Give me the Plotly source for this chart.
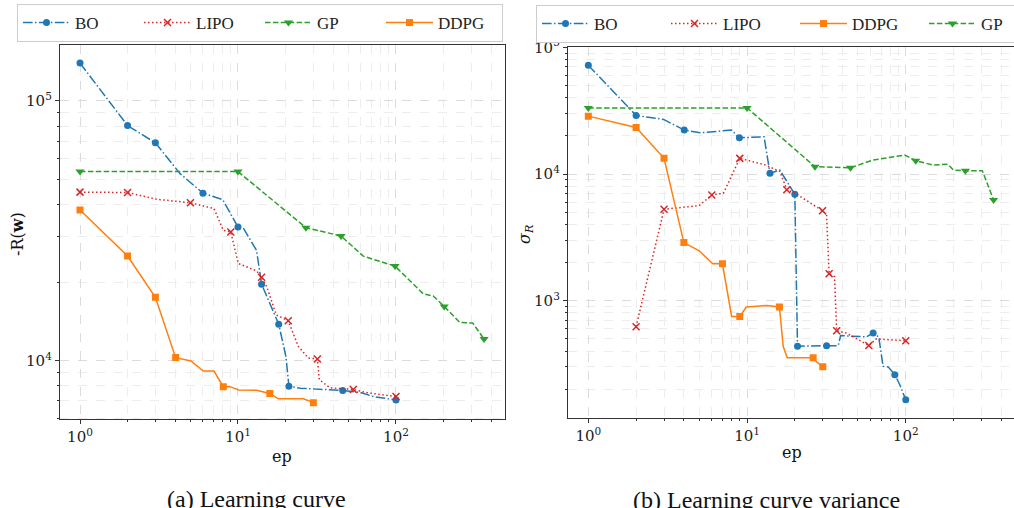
import plotly.graph_objects as go

# ---------------- Panel (a): Learning curve, -R(w) ----------------
a_bo_ep = [1, 2, 3, 4.3, 6, 8, 10, 10.8, 13.1, 14.1, 18.1, 20.1, 21, 24.8, 46, 59, 72, 100]
a_bo_val = [140000, 80400, 69000, 52500, 44150, 41700, 32700, 32400, 26600, 19700, 13820, 10390, 7970, 7830, 7675, 7550, 7270, 7060]
a_bo_mark = [0, 1, 2, 4, 6, 9, 10, 12, 14, 17]

a_lipo_ep = [1, 2, 3.06, 5, 7.05, 8.07, 9, 10.05, 13.1, 14.1, 15.2, 17.5, 20.8, 24.1, 27.8, 31.8, 32.7, 38.1, 53.7, 65, 100]
a_lipo_val = [44570, 44400, 41830, 40550, 38500, 31760, 31290, 23660, 22180, 20930, 19260, 14990, 14230, 11340, 10240, 10150, 8450, 7860, 7745, 7530, 7270]
a_lipo_mark = [0, 1, 3, 6, 9, 12, 15, 18, 20]

a_gp_ep = [1, 10, 26.9, 44.9, 62.1, 98.6, 149, 172, 202, 254, 306, 361]
a_gp_val = [53460, 53460, 32520, 30200, 25250, 23120, 18060, 17750, 16160, 14020, 13950, 12110]
a_gp_mark = [0, 1, 2, 3, 5, 8, 11]

a_ddpg_ep = [1, 2, 3, 4.03, 5.04, 6.03, 7.05, 8.07, 8.9, 10.1, 13.1, 15.9, 18, 25.9, 30]
a_ddpg_val = [38020, 25290, 17540, 10270, 9970, 9120, 9120, 7940, 7940, 7710, 7690, 7475, 7130, 7130, 6890]
a_ddpg_mark = [0, 1, 2, 3, 7, 11, 14]

# ---------------- Panel (b): Learning curve variance, sigma_R ----------------
b_bo_ep = [1, 2, 2.98, 4.02, 5.06, 8.0, 8.95, 12.8, 13.95, 16.1, 20.0, 20.8, 31.7, 37.5, 38.9, 56.6, 62.3, 67.6, 72, 77.6, 85.3, 91.7, 100]
b_bo_val = [72100, 28970, 26980, 22210, 21150, 22210, 19310, 19680, 10130, 10750, 6920, 437, 442, 442, 530, 518, 557, 517, 303, 300, 261, 217, 165]
b_bo_mark = [0, 1, 3, 6, 8, 10, 11, 12, 16, 20, 22]

b_lipo_ep = [2, 3, 4.99, 6.0, 7.1, 9, 12.9, 16.1, 17.8, 20.0, 29.9, 31.7, 32.9, 35.6, 36.7, 42.4, 58.5, 65.2, 100]
b_lipo_val = [624, 5270, 5630, 6840, 7050, 13290, 11840, 10480, 7520, 7080, 5130, 4770, 1630, 1550, 580, 555, 443, 500, 483]
b_lipo_mark = [0, 1, 3, 5, 8, 10, 12, 14, 16, 18]

b_ddpg_ep = [1, 2, 3, 4, 5, 6.08, 7, 8.0, 9, 9.9, 13.3, 16.0, 16.9, 17.9, 24.9, 26.1, 27.0, 30]
b_ddpg_val = [28620, 23320, 13290, 2877, 2477, 1955, 1955, 752, 752, 892, 918, 892, 437, 354, 354, 354, 335, 301]
b_ddpg_mark = [0, 1, 2, 3, 6, 8, 11, 15, 17]

b_gp_ep = [1, 10, 26.8, 44.9, 62.3, 98.5, 115.6, 148.5, 184.6, 200, 237.5, 303.6, 357.7]
b_gp_val = [33260, 33260, 11420, 11210, 12890, 14110, 12730, 11770, 11920, 10750, 10620, 10620, 6240]
b_gp_mark = [0, 1, 2, 3, 6, 10, 12]

x_tick_vals = [1, 10, 100]
x_tick_text = ["10<sup>0</sup>", "10<sup>1</sup>", "10<sup>2</sup>"]
ya_tick_vals = [1e4, 1e5]
ya_tick_text = ["10<sup>4</sup>", "10<sup>5</sup>"]
yb_tick_vals = [1e3, 1e4, 1e5]
yb_tick_text = ["10<sup>3</sup>", "10<sup>4</sup>", "10<sup>5</sup>"]

STYLE = {
    "BO": dict(color="#1f77b4", dash="9.6px,2.4px,1.5px,2.4px", symbol="circle", size=7),
    "LIPO": dict(color="#d62728", dash="1.5px,2.5px", symbol="x-thin", size=7),
    "GP": dict(color="#2ca02c", dash="5.5px,2.4px", symbol="triangle-down", size=8),
    "DDPG": dict(color="#ff7f0e", dash="solid", symbol="square", size=7),
}

FONT = "Liberation Serif"
FONT2 = "DejaVu Serif"
W, H = 1014, 508

fig = go.Figure()


def add(name, ep, val, marks, xa, ya, legend):
    s = STYLE[name]
    marker = dict(color=s["color"], symbol=s["symbol"], size=s["size"],
                  line=dict(color=s["color"], width=1.5 if name == "LIPO" else 0))
    fig.add_trace(go.Scatter(
        x=ep, y=val, name=name, mode="lines+markers", xaxis=xa, yaxis=ya,
        legend=legend,
        line=dict(color=s["color"], width=1.5, dash=s["dash"]),
        marker=marker,
        selectedpoints=marks,
        selected=dict(marker=dict(opacity=1)),
        unselected=dict(marker=dict(opacity=0)),
        hoverinfo="skip",
    ))


add("BO", a_bo_ep, a_bo_val, a_bo_mark, "x", "y", "legend")
add("LIPO", a_lipo_ep, a_lipo_val, a_lipo_mark, "x", "y", "legend")
add("GP", a_gp_ep, a_gp_val, a_gp_mark, "x", "y", "legend")
add("DDPG", a_ddpg_ep, a_ddpg_val, a_ddpg_mark, "x", "y", "legend")

add("BO", b_bo_ep, b_bo_val, b_bo_mark, "x2", "y2", "legend2")
add("LIPO", b_lipo_ep, b_lipo_val, b_lipo_mark, "x2", "y2", "legend2")
add("DDPG", b_ddpg_ep, b_ddpg_val, b_ddpg_mark, "x2", "y2", "legend2")
add("GP", b_gp_ep, b_gp_val, b_gp_mark, "x2", "y2", "legend2")


def minor_vals(lo_exp, hi_exp):
    out = []
    for e in range(lo_exp, hi_exp + 1):
        for m in range(2, 10):
            out.append(m * 10 ** e)
    return out


GRID = "#dcdcdc"
MGRID = "#ededed"
AX = "#333333"
tickfont = dict(family=FONT2, size=15, color="#222")


def axis(domain, rng, tv, tt, mv, mirror, anchor):
    return dict(
        type="log", domain=domain, range=rng, anchor=anchor,
        tickmode="array", tickvals=tv, ticktext=tt, tickfont=tickfont,
        ticks="outside", ticklen=4, tickcolor=AX, tickwidth=1,
        showline=True, linecolor=AX, linewidth=1.3, mirror=mirror,
        showgrid=True, gridcolor=GRID, griddash="dash", gridwidth=1,
        zeroline=False, automargin=False,
        minor=dict(tickmode="array", tickvals=mv, ticks="outside", ticklen=2,
                   tickcolor=AX, showgrid=True, gridcolor=MGRID, griddash="dash", gridwidth=1),
    )


legend_common = dict(orientation="h", xanchor="left", yanchor="top",
                     bgcolor="white", bordercolor="#cccccc", borderwidth=1,
                     font=dict(family=FONT, size=17, color="#222"),
                     itemwidth=47, entrywidthmode="pixels")

fig.update_layout(
    width=W, height=H,
    margin=dict(l=0, r=0, t=0, b=0, autoexpand=False),
    paper_bgcolor="white", plot_bgcolor="white",
    font=dict(family=FONT, size=17, color="#222"),
    xaxis=axis([60 / W, 505 / W], [-0.1266, 2.69], x_tick_vals, x_tick_text,
               minor_vals(0, 2), True, "y"),
    yaxis=axis([1 - 419.3 / H, 1 - 45 / H], [3.774, 5.2156], ya_tick_vals, ya_tick_text,
               minor_vals(3, 5), True, "x"),
    xaxis2=axis([568 / W, 1.0], [-0.128, 2.682], x_tick_vals, x_tick_text,
                minor_vals(0, 2), True, "y2"),
    yaxis2=axis([1 - 418.3 / H, 1 - 47.3 / H], [2.072, 5.0], yb_tick_vals, yb_tick_text,
                minor_vals(2, 4), False, "x2"),
    legend=dict(x=17 / W, y=1 - 4 / H, entrywidth=59, **legend_common),
    legend2=dict(x=536 / W, y=1 - 5 / H, entrywidth=67, **legend_common),
    showlegend=True,
)

ann = [
    dict(text="ep", x=282 / W, y=1 - 456 / H, size=16, angle=0, fam=FONT2),
    dict(text="ep", x=792 / W, y=1 - 452 / H, size=16, angle=0, fam=FONT2),
    dict(text="-R(<b>w</b>)", x=17 / W, y=1 - 234 / H, size=16, angle=-90, fam=FONT2),
    dict(text="<i>σ</i><sub><i>R</i></sub>", x=525 / W, y=1 - 234 / H, size=16, angle=-90, fam=FONT2),
    dict(text="(a) Learning curve", x=256 / W, y=1 - 499 / H, size=24, angle=0, fam=FONT),
    dict(text="(b) Learning curve variance", x=766 / W, y=1 - 500 / H, size=24, angle=0, fam=FONT),
]
for a in ann:
    fig.add_annotation(text=a["text"], x=a["x"], y=a["y"], xref="paper", yref="paper",
                       xanchor="center", yanchor="middle", showarrow=False,
                       textangle=a["angle"], font=dict(family=a["fam"], size=a["size"], color="#111"))

fig.write_html("out.html", config={"displayModeBar": False},
               post_script="document.body.style.margin='0px';")
